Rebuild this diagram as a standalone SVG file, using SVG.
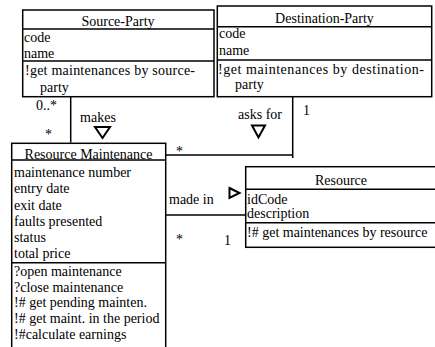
<svg xmlns="http://www.w3.org/2000/svg" width="435" height="347" viewBox="0 0 435 347" font-family="Liberation Serif, serif" font-size="14">
<style>
.box{fill:#fff;stroke:#000;stroke-width:1.5}
.ln{stroke:#000;stroke-width:1.5;fill:none}
.tri{fill:#fff;stroke:#000;stroke-width:2}
.c{text-anchor:middle}
</style>
<rect width="435" height="347" fill="#fff"/>
<g id="connectors">
<path class="ln" d="M70.7,97 V142.5"/>
<path class="ln" d="M292.7,97 V158 M165.5,155 H292.7"/>
<path class="ln" d="M165.5,215 H246"/>
<polygon class="tri" points="95,127 110,127 102.5,138"/>
<polygon class="tri" points="252,125.5 265,125.5 258.5,137.5"/>
<polygon class="tri" points="229.5,188 239.5,193 229.5,198"/>
<text x="36" y="110">0..*</text>
<text x="45" y="139">*</text>
<text x="98" y="122" class="c">makes</text>
<text x="260" y="119" class="c">asks for</text>
<text x="303" y="115">1</text>
<text x="176" y="156">*</text>
<text x="169" y="204">made in</text>
<text x="176" y="244">*</text>
<text x="224" y="245">1</text>
</g>
<g id="source-party">
<rect class="box" x="22.7" y="10" width="191.3" height="86.7"/>
<path class="ln" d="M22.7,29 H214 M22.7,61 H214"/>
<text x="118" y="26" class="c">Source-Party</text>
<text x="24" y="42">code</text>
<text x="24" y="58">name</text>
<text x="25" y="75" textLength="170" lengthAdjust="spacing">!get maintenances by source-</text>
<text x="40" y="92">party</text>
</g>
<g id="destination-party">
<rect class="box" x="217.3" y="6" width="214.4" height="90.7"/>
<path class="ln" d="M217.3,26.7 H431.7 M217.3,60 H431.7"/>
<text x="324.5" y="23" class="c">Destination-Party</text>
<text x="219" y="38">code</text>
<text x="219" y="55">name</text>
<text x="218" y="74" textLength="206" lengthAdjust="spacing">!get maintenances by destination-</text>
<text x="235" y="89">party</text>
</g>
<g id="resource-maintenance">
<rect class="box" x="11.7" y="143.3" width="154" height="210"/>
<path class="ln" d="M11.7,160 H165.7 M11.7,262.7 H165.7"/>
<text x="88.5" y="159" class="c">Resource Maintenance</text>
<text x="14" y="177">maintenance number</text>
<text x="14" y="193">entry date</text>
<text x="14" y="209.5">exit date</text>
<text x="14" y="226">faults presented</text>
<text x="14" y="242">status</text>
<text x="14" y="258">total price</text>
<text x="14" y="276">?open maintenance</text>
<text x="14" y="291.5">?close maintenance</text>
<text x="14" y="307">!# get pending mainten.</text>
<text x="14" y="323">!# get maint. in the period</text>
<text x="14" y="339">!#calculate earnings</text>
</g>
<g id="resource">
<rect class="box" x="245.7" y="166.7" width="200" height="80.6"/>
<path class="ln" d="M245.7,189.3 H440 M245.7,222.7 H440"/>
<text x="341" y="185" class="c">Resource</text>
<text x="247" y="204">idCode</text>
<text x="247" y="218">description</text>
<text x="247" y="237">!# get maintenances by resource</text>
</g>
</svg>
